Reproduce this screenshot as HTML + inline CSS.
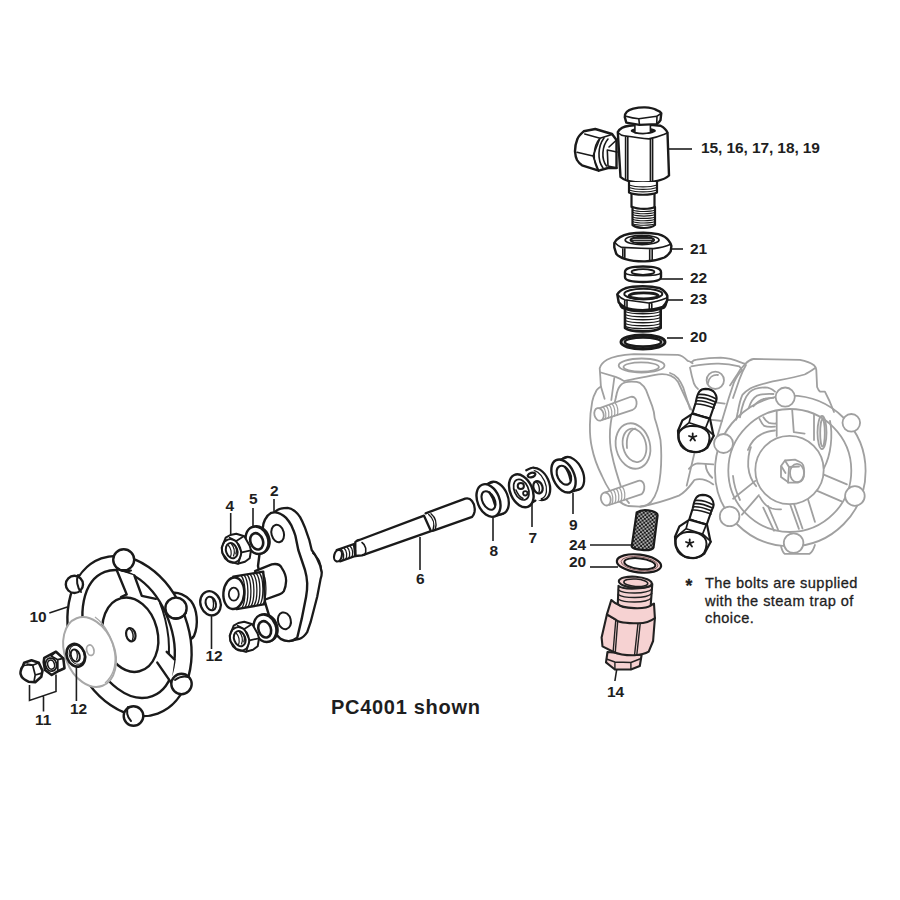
<!DOCTYPE html>
<html><head><meta charset="utf-8">
<style>
html,body{margin:0;padding:0;background:#fff;width:900px;height:900px;overflow:hidden}
svg{position:absolute;left:0;top:0}
.lb{font-family:"Liberation Sans",sans-serif;font-weight:bold;font-size:15.5px;fill:#1e1e1e}
.nt{font-family:"Liberation Sans",sans-serif;font-size:14.6px;fill:#1e1e1e;stroke:#1e1e1e;stroke-width:0.3px}
</style></head><body>
<svg width="900" height="900" viewBox="0 0 900 900">
<!-- TRAP BODY (gray) -->
<g stroke="#a0a0a0" fill="none" stroke-width="1.8" stroke-linejoin="round" stroke-linecap="round">
 <!-- ===== left block ===== -->
 <path d="M692.6,363.3 C690,361.5 689,361 687.7,360.9 C684,357 681,355 677.9,354.8 L633.9,354.2 C622,355 612,357 607,359.7 C603,362 600.5,365 599.7,368.2 L600.3,376.8 L600.9,386.6 C598,388.5 596.5,389.5 596,391.5 C594,395 593,398 592.3,401.2 L590.5,413.5 L589.9,425 C589.8,433 590.3,441 592,448 C594,458 598,468 602,476 C606,485 612,495 618,500 C621,503 624,505 628,506 L640,506.7"/>
 <!-- top face front edge -->
 <path d="M600.9,372.5 C606,374 611,375.5 615.6,376.8 C619,378 622,379.5 624.1,381.1 C636,379 648,376 658.4,374.3 C663,373.7 667,374.2 670.6,375.6 C674,377 676,379 677.9,381.7 L686.5,400 L691.4,409.8"/>
 <path d="M614.3,378 L611.3,400"/>
 <path d="M600.9,386.6 L604.6,398.8"/>
 <!-- top port -->
 <ellipse cx="641.6" cy="365.5" rx="22.9" ry="7"/>
 <ellipse cx="641.2" cy="367" rx="17.7" ry="4.6"/>
 <!-- flange front face -->
 <path d="M616.2,396.3 C617,391 618.5,387.5 620.5,385.3 C623,382.5 627,381.7 631.5,381.7 C635,381.7 638,382 640,382.9 C643,385 645,387.5 646.1,390.2 L652.2,406.1 C654,411 654.5,415 654.7,418.3 C657,425 659,433 660.5,440 C661.5,450 661.5,462 660.5,473 C659.5,485 656,496 651,502 C648,505 645,506.5 641,506.5"/>
 <path d="M616.2,396.3 C614,405 611,418 610,430 C609.5,440 610,447 612,455 C614,465 618,478 622,490 C624,496 626,500 629,503"/>
 <!-- side port -->
 <ellipse cx="633" cy="446" rx="17" ry="23" transform="rotate(-14 633 446)"/>
 <ellipse cx="634.5" cy="445.3" rx="11.5" ry="17" transform="rotate(-14 634.5 445.3)"/>
 <path d="M627,448 C626,438 629,431 635,428.5"/>
 <!-- studs -->
 <path fill="#fff" d="M598.4,408.6 L630.2,397 C633.5,396 636,398 636.5,401.5 C637,405 635.5,408.5 632.7,409.8 L601.5,420.2"/>
 <ellipse cx="599" cy="414.4" rx="4.6" ry="6.4" transform="rotate(-15 599 414.4)" fill="#fff"/>
 <path stroke-width="1.2" d="M603.5,407.5 C606,410 606.5,416 605,419.5 M606.5,406.5 C609,409 609.5,415 608,418.5 M609.5,405.5 C612,408 612.5,414 611,417.5 M612.5,404.5 C615,407 615.5,413 614,416.5 M615.5,403.5 C618,406 618.5,412 617,415.5"/>
 <path fill="#fff" d="M605,492.5 L638.3,480.8 C641.5,480 644,482.5 644.3,486 C644.5,489.5 643,493 641.7,494.2 L609.2,505"/>
 <ellipse cx="605.8" cy="499" rx="4.8" ry="6.6" transform="rotate(-15 605.8 499)" fill="#fff"/>
 <path stroke-width="1.2" d="M610.5,491 C613,494 613.5,500 612,504 M613.5,490 C616,493 616.5,499 615,503 M616.5,489 C619,492 619.5,498 618,502 M619.5,488 C622,491 622.5,497 621,501 M622.5,487 C625,490 625.5,496 624,500"/>
 <!-- ===== bridge ===== -->
 <path d="M691.3,362.3 C693,360.5 695,359.8 696.7,359.7 C705,358.5 713,357.8 720.7,357.7 C728,358 735,360 740.7,362.3 C742,363 743.5,363.5 744.7,363.7"/>
 <path d="M691.3,366.3 C700,365 708,364 716.7,363.7 C724,363.5 732,364.5 739.3,366.3 C740.5,367.5 741.5,369 742,370.3"/>
 <path d="M690,367.7 C691,373 692.5,379 694,383.7 C695,386 696.5,388 698,389"/>
 <path d="M670,373 C674,374 676,376 678,378.3 C680,381 682,384.5 683.3,387.7 L690,409"/>
 <circle cx="715.3" cy="380.3" r="8.7"/>
 <path d="M708,383 C709,377.5 713,374.5 718,375"/>
 <path d="M742,370.3 C738,374 736,378 734,382.3 L728.7,398.3 L720.7,425 L716.7,438.3"/>
 <path d="M746,365 C743,370 741,375 739.3,379.7 L733,398"/>
 <path d="M715.3,402.3 L724.7,403.7 M710,419.7 L722,421"/>
 <!-- lower middle body -->
 <path d="M640,506.7 C655,504 670,499 678.9,495.6 C686,492 690,486 694.4,480 C700,478 707,480 713.3,484.4"/>
 <path d="M688.9,468.9 C692,465 695,463.5 697.8,463.3 L713.3,464.4"/>
 <path d="M705.6,464.4 C706,470 709,475 712.2,477.8"/>
 <path d="M694.4,453.3 L686.7,485.6"/>
 <!-- ===== right block (bonnet) ===== -->
 <path d="M730,385.4 L736.2,376.1 C739,371 742,367 745.6,363.7 C748,361 750.5,359.5 753.3,359 L800,359.8 C806,361 811,363 814,365.2 C815.5,366.5 816,368 816.3,369.9 L817.1,387 C818,389.5 819,391 820.2,391.7 L824.9,391.7 L829.5,401 L834,412"/>
 <path d="M814.8,368.3 C811,371 808,373 804.6,374.5 C793,378 780,380 768.9,382.3 C762,384 755,386 750.2,388.5 C746,391 744,393 742.4,394.8 C740,400 739,405 737.8,411.9 L736.2,419.7"/>
 <path d="M740,417.3 C742,405 745,397 749.4,392.4 C753,389 759,387.5 765,387.4 C769,387.5 772,389 775,391.7"/>
 <path d="M748.7,408 C751,401 754,397.5 757.2,395.6 C762,393.8 768,393.7 773.5,394"/>
 <path d="M759.5,418.9 C761,422 762.5,424.5 764.2,425.9 C767,427 771,427 775,426.7 M763.4,417.3 C765,420 767,422 768.9,422.8 C771,423.5 773.5,423.6 775.9,423.5"/>
 <path d="M747.9,450 C751,442 756,437 761.1,434.4 C765,432 770,431 775,430.5"/>
 <path d="M753.3,406.4 C757,402 761,399.5 765,398.7 C768,398 771,397.9 773.5,397.9"/>
 <ellipse cx="822" cy="432.5" rx="4.5" ry="16.5"/>
 <ellipse cx="822.5" cy="433" rx="2.3" ry="13.5"/>
 <path d="M814,414.7 V440 M830,421 C833,435 831,455 824,468"/>
 <!-- ===== handwheel ===== -->
 <circle cx="790.3" cy="471" r="75.3"/>
 <circle cx="789.8" cy="470.5" r="61.5"/>
 <path d="M733,476 C734,486 736.5,493 740,500"/>
 <!-- spokes -->
 <path d="M776.7,411.5 L776.7,436 M792.2,410.2 L793.8,432.1 L804.6,433.6"/>
 <path d="M822,473.8 L846.9,484.4 M816.7,490.7 L841.6,501.3"/>
 <path d="M755.3,480.9 L733.1,498.7 M758.9,495.1 L742,514.7"/>
 <!-- below hub -->
 <path d="M763.3,507.6 L774,530.7 M768,506 L778,529.5 M790,504 L798.9,528.9 M794,504 L802.5,528.5 M807.8,498.7 L814.9,521.8"/>
 <path d="M759.8,496.9 C763,503 767,507 772,508.5 C776,509.5 779,509.5 781.1,509.3"/>
 <!-- hub -->
 <path d="M750.9,447.1 C748.5,453 748,460 748.2,466.7 C749,475 751.5,481 756.2,486.2"/>
 <circle cx="789.5" cy="470" r="34.2" fill="#fff"/>
 <!-- center nut -->
 <path fill="#fff" d="M781,466 L785,460.5 L795,459.6 L800,462 C803,463 804.2,468 804.2,472 C804.2,478 802,482 798,482.7 L789,482.7 L781,477 Z"/>
 <path d="M785,460.5 L789,467 L799,466.5 M789,467 L788,482.7 M781.5,466.5 L785.5,473"/>
 <ellipse cx="797" cy="473" rx="7" ry="9.2"/>
 <!-- foot -->
 <path d="M781.1,546.7 C782,550 783,552.5 784.7,553.8 L809.6,553.8 C812,552 814,548 814.9,544.9"/>
 <!-- knobs -->
 <g fill="#fff">
 <circle cx="785.2" cy="397.1" r="9.6"/>
 <circle cx="851.3" cy="422.8" r="8.8"/>
 <circle cx="723.5" cy="443.5" r="9.5"/>
 <circle cx="854.9" cy="496" r="9.8"/>
 <circle cx="729.6" cy="516.4" r="9.8"/>
 <circle cx="793.6" cy="543.1" r="9.8"/>
 </g>
</g>

<!-- BOLTS -->
<defs>
<g id="bolt" stroke="#1a1a1a" fill="#fff" stroke-linejoin="round" stroke-linecap="round">
 <path stroke-width="2.1" d="M692.2,413.8 L695.8,402.2 C696.5,398 697.5,394 699.3,391.6 C701,389.5 703,388.9 705.6,388.9 C710,389 713,390.5 714.8,393 C716.5,395.5 717,398.5 716.2,401 L714.6,404.5 L709.8,418.4 Z"/>
 <path stroke-width="1.6" fill="none" d="M698.5,394.5 C704,394 711,396 716.3,399 M697.5,397.7 C703,397 710,399.5 715.5,402 M696.6,400.9 C702,400.3 709,402.7 714.8,405 M695.7,404 C701,403.5 708,405.8 714,408"/>
 <path stroke-width="2.2" d="M692.2,413.8 L682.4,420.4 L678,430.7 L678.4,437.8 C679,441 680,443 681.6,444.9 C684,448 687,450.5 689.6,451.1 C692.5,452 695.5,452.3 698.4,452 C702,451.3 705,449.8 707.3,447.6 L713.6,436 L710,418.6 Z"/>
 <path stroke-width="1.7" fill="none" d="M693.6,413.3 L709.1,418.7 M690.9,415.6 L689.1,422.7 L678.9,431.1 M689.1,422.7 L705.6,428 L709.1,419.1 M705.6,428 L714,435.6"/>
 <path stroke-width="2" fill="none" d="M678.6,434 C679.5,430 684,426.5 690,426 C697,425.5 704,427.5 707.5,431.5 C710,435 710,441 707.3,446.5 C704.5,450.5 699,452.5 693.5,452 C686,451.5 680.5,447 678.6,440 Z"/>
 <path stroke-width="1.8" fill="none" d="M692.7,433.3 V437.3 M692.7,437.3 L689,436 M692.7,437.3 L696.4,436 M692.7,437.3 L690.4,440.6 M692.7,437.3 L695,440.6"/>
</g>
</defs>
<use href="#bolt"/>
<use href="#bolt" transform="translate(-3 106)"/>

<!-- PART 15-19 angle valve -->
<g stroke="#1a1a1a" fill="#fff" stroke-linejoin="round" stroke-linecap="round">
 <!-- left nut -->
 <path stroke-width="2.4" d="M616.5,140 L612,134 L595.3,129 L583.7,131.3 C580,134.5 578,137 577.3,139.3 C575.8,143 575,147 575,151.3 C575.3,155 576,158 577,160 C578.5,162.5 580,164 582,165.3 L598.7,170.7 L608,168 L616.5,168 Z"/>
 <path stroke-width="1.5" fill="none" d="M584.7,134 L600,138.3 L593,156 L598.7,170.7 M577,152.3 L593,156 M600,138.3 L612.7,134.3"/>
 <path stroke-width="1.6" fill="none" d="M600,138.3 C593,146 592,162 598.7,170.7 M604,138 C598,146 597,160 603,168 M608,139 C602,146 601,159 606.5,166"/>
 <path stroke-width="1.6" fill="none" d="M607.3,150 L617,152 M608,166 L617,168 M609,147 L616,140.5 M607.3,150 L608,166"/>
 <!-- hex body -->
 <path stroke-width="2.4" d="M617.8,132 C620,128 624,126.3 629.4,125.7 C635,125 640,124.9 645,124.9 C651,125 656,125.3 660.5,125.7 C664,127.5 666.5,130 667.5,132.7 L669,175.5 C664,180.5 652,182.5 643,182.5 C632,182.5 624,180.5 620.5,177 Z"/>
 <path stroke-width="1.6" fill="none" d="M618.5,133 C620,134.5 622,135.5 624,135.8 C632,137 641,138.3 648.9,138.9 C655,137.5 660,136 664.4,134.2 L667.5,132.7 M625.6,136 V179.5 M627.8,136.3 V180 M650.4,139 V182 M652.6,138.7 V181.8"/>
 <ellipse cx="643.3" cy="130.8" rx="12.6" ry="3.3" fill="#1a1a1a" stroke="none"/>
 <path stroke-width="1.6" d="M634.9,124 V132.6 C640,133.8 646,133.8 650.4,132.6 V124 Z"/>
 <!-- top bolt head -->
 <path stroke-width="2.4" d="M624.8,117.1 C624.5,113 628,110 633.3,108.6 C638,107.5 641,107.3 645,107.4 C650,107.6 654,108.5 656.7,110.1 C659,111 660.8,112 661.3,113.2 L660.5,120.2 C659.5,122 658,123.3 656.7,124.1 L639.5,124.9 L626.3,122.6 Z"/>
 <path stroke-width="1.6" fill="none" d="M625,116 C630,117.5 635,118.5 638.8,118.7 L656.7,116.3 L661,113.5 M638.8,118.7 L639.5,124.9 M657,116.3 L656.7,124"/>
 <!-- stem upper threads -->
 <path stroke-width="2.2" d="M629,182 V192.5 C635,195.5 651,195.5 657,192.5 V182"/>
 <path stroke-width="1.2" fill="none" d="M629,185 C636,187.5 650,187.5 657,185 M629,187.5 C636,190 650,190 657,187.5 M629,190 C636,192.5 650,192.5 657,190"/>
 <path stroke-width="2.2" fill="none" d="M631.5,194 V207 M654.5,194 V207"/>
 <path stroke-width="2.2" d="M632.5,207 V225 C638,229 650,229 655,225 V207 C650,209.5 638,209.5 632.5,207 Z"/>
 <path stroke-width="1.1" fill="none" d="M632.5,210 C638,212 650,212 655,210 M632.5,212.3 C638,214.3 650,214.3 655,212.3 M632.5,214.6 C638,216.6 650,216.6 655,214.6 M632.5,216.9 C638,218.9 650,218.9 655,216.9 M632.5,219.2 C638,221.2 650,221.2 655,219.2 M632.5,221.5 C638,223.5 650,223.5 655,221.5 M632.5,223.8 C638,225.8 650,225.8 655,223.8"/>
</g>
<!-- PART 21 nut -->
<g stroke="#1a1a1a" fill="#fff" stroke-linejoin="round" stroke-linecap="round">
 <path stroke-width="2.4" d="M614.3,243 C617,238 623,235 629.4,233.8 C634,233 639,232.7 643.4,232.7 C649,232.8 654,233.3 658.2,234.2 C663,235.5 667,238 669.1,241.2 C670.5,243 671.3,244.5 671.4,245.9 L670.7,251.3 C669,254 667,256 664.4,257.5 C658,260 652,261.3 645,261.4 C638,261.5 631,260.8 625.6,259.1 C621,257.8 618,256 616.2,253.7 L614.3,247.4 Z"/>
 <path stroke-width="1.6" fill="none" d="M614.7,242.5 C617,245 619,246.5 621.7,247.4 L641.1,248.2 L653.5,248.6 C660,248 666,246.5 670.7,244.3 M622.8,247.5 V256.5 M624.8,247.6 V257.5 M649.7,248.5 V259.8 M652.2,248.6 V259.5"/>
 <ellipse cx="642.1" cy="240" rx="16.9" ry="4.6" stroke-width="1.8"/>
 <ellipse cx="642.3" cy="240" rx="12" ry="3.6" stroke-width="1.5" fill="#2a2a2a"/>
 <path stroke-width="0.9" stroke="#bbb" fill="none" d="M633,239.5 H651.5 M634,241.5 H650.5"/>
</g>
<!-- PART 22 washer -->
<g stroke="#1a1a1a" fill="#fff" stroke-linejoin="round">
 <path stroke-width="2.4" d="M625,272 C625,268 633,266.5 643,266.5 C653,266.5 661,268 661,272 V277 C661,280.5 653,282 643,282 C633,282 625,280.5 625,277 Z"/>
 <ellipse cx="643" cy="272" rx="11.5" ry="2.8" stroke-width="1.8" fill="none"/>
 <path stroke-width="1.5" fill="none" d="M625,273 C628,276.5 658,276.5 661,273"/>
</g>
<!-- PART 23 bushing -->
<g stroke="#1a1a1a" fill="#fff" stroke-linejoin="round" stroke-linecap="round">
 <path stroke-width="2.6" d="M625,306 V328 C630,332.5 655,332.5 660.7,328 V306 Z"/>
 <path stroke-width="1.3" fill="none" d="M625,311.5 C632,314.5 654,314.5 660.7,311.5 M625,314.5 C632,317.5 654,317.5 660.7,314.5 M625,317.5 C632,320.5 654,320.5 660.7,317.5 M625,320.5 C632,323.5 654,323.5 660.7,320.5 M625,323.5 C632,326.5 654,326.5 660.7,323.5 M625,326.3 C632,329.3 654,329.3 660.7,326.3"/>
 <path stroke-width="2.2" d="M619.3,302 C620,305 621,307 622.5,308 C628,310.5 636,311.5 642.7,311.5 C650,311.5 658,310 663.5,308 C665,307 666,305 666.5,302 Z"/>
 <path stroke-width="2.5" d="M617.3,294.3 C619,291.5 622,289.5 625.3,288.3 C630,286.8 636,286.3 642.7,286.3 C649,286.3 655,287 660,288.3 C663.5,290 666,292.5 667.3,295.7 L667.3,300.3 C666,303.5 664.5,305.5 662.7,307 C657,309 650,310 642.7,310.3 C635,310.3 629,309.3 625.3,307.7 C622,306 620,304 618.7,302.3 Z"/>
 <path stroke-width="1.6" fill="none" d="M618,295 C620,297.5 622,299 624.7,299.7 L648.7,303 C655,302 661,300 667.3,297.7 M624.7,299.7 V308 M627,300 V308.5 M649.3,303 V310.3 M651.8,302.8 V310"/>
 <ellipse cx="643.3" cy="294" rx="19" ry="5.2" stroke-width="2"/>
 <ellipse cx="643.7" cy="295.8" rx="14.5" ry="3" stroke-width="2.8" fill="none"/>
</g>
<!-- PART 20 o-ring -->
<g stroke="#1a1a1a" fill="none">
 <ellipse cx="643" cy="342" rx="22" ry="7" stroke-width="3"/>
 <ellipse cx="643" cy="342" rx="18.2" ry="4.6" stroke-width="2.6"/>
</g>

<!-- SHAFT 6 -->
<g stroke="#1a1a1a" fill="#fff" stroke-linejoin="round" stroke-linecap="round">
 <path stroke-width="2.3" d="M425.6,513.3 L465.2,498.6 C468,497.8 470.5,499 472,501 C474.5,504 475,509 474.5,512 C474,514.5 473,516 472.2,516.8 L432.6,530.8"/>
 <path stroke-width="2.3" d="M355.3,542 C357,540.5 358,540 359.3,540 L424,515.7 L431,531.2 L362,555.3 L355.3,556 Z"/>
 <path stroke-width="1.4" fill="none" d="M428.7,514.5 C433,518 435,524 433,530 M431,513.7 C435,517 437,523 435.3,529.3"/>
 <path stroke-width="1.6" fill="none" d="M362,542.5 C366,545 367,551 364.5,555"/>
 <path stroke-width="2.3" d="M336.7,550 L354,544 L355.3,556 L340,561.3 Z"/>
 <ellipse cx="338" cy="555.7" rx="3.8" ry="5.9" transform="rotate(15 338 555.7)" stroke-width="2.2"/>
 <path stroke-width="1.3" fill="none" d="M341,549 C344,552 344.5,557 342.5,560.5 M344,548 C347,551 347.5,556 345.5,559.5 M347,547 C350,550 350.5,555 348.5,558.5 M350,546 C353,549 353.5,554 351.5,557.5 M353,545 C356,548 356.5,553 354.5,556.5"/>
</g>
<!-- SEAL 8 -->
<g stroke="#1a1a1a" fill="#fff" stroke-linejoin="round" stroke-linecap="round">
 <ellipse cx="496.8" cy="498" rx="11" ry="17" transform="rotate(-22 496.8 498)" stroke-width="2.3"/>
 <path stroke="none" d="M484.5,485 L493,482 L503,513.5 L494.5,516.5 Z"/>
 <path stroke-width="2.2" fill="none" d="M484.3,485 L492.8,482.2 M494.5,516.4 L503,513.6"/>
 <ellipse cx="488.5" cy="500.5" rx="11" ry="17" transform="rotate(-22 488.5 500.5)" stroke-width="2.4"/>
 <ellipse cx="488.5" cy="500.5" rx="6" ry="9.9" transform="rotate(-27 488.5 500.5)" stroke-width="2.1"/>
 <path stroke-width="2.2" fill="none" d="M489.5,492.5 C492,496 494,500 495,505"/>
</g>
<!-- LANTERN RING 7 -->
<g stroke="#1a1a1a" fill="#fff" stroke-linejoin="round" stroke-linecap="round">
 <ellipse cx="538" cy="484" rx="11" ry="17" transform="rotate(-24 538 484)" stroke-width="2.3"/>
 <ellipse cx="536.3" cy="484.6" rx="9" ry="15" transform="rotate(-24 536.3 484.6)" stroke-width="1.3" fill="none"/>
 <path stroke="none" d="M519,474 L533,467.5 L541,499.5 L527,506 Z"/>
 <path stroke-width="2.1" fill="none" d="M526.2,470.3 C529,468.8 531,468 533.3,467.5 M527.5,505 C530,504 533,502 535.5,500.5"/>
 <path stroke-width="2.2" fill="#fff" d="M527.7,475.5 C529,472.5 533,472 535.2,473.5 C536,475 534,477 531,477.4 C529,477.6 527.8,477 527.7,475.5 Z"/>
 <ellipse cx="538" cy="487.3" rx="4.5" ry="6.3" transform="rotate(-20 538 487.3)" stroke-width="2.2"/>
 <path stroke-width="1.4" fill="none" d="M536.5,482 C539,484.5 540,489 539,492"/>
 <ellipse cx="521.3" cy="490.8" rx="11.05" ry="17.3" transform="rotate(-24 521.3 490.8)" stroke-width="2.4"/>
 <ellipse cx="521.3" cy="489.7" rx="7" ry="10.8" transform="rotate(-24 521.3 489.7)" stroke-width="1.7" fill="none"/>
 <circle cx="520.8" cy="486" r="3.1" stroke-width="2" fill="none"/>
 <circle cx="525.3" cy="493.3" r="2.2" stroke-width="1.8" fill="none"/>
 <path stroke-width="1.5" fill="none" d="M516,490 C517.5,494 520,497 523,498.5"/>
</g>
<!-- SEAL 9 -->
<g stroke="#1a1a1a" fill="#fff" stroke-linejoin="round" stroke-linecap="round">
 <ellipse cx="572" cy="473.5" rx="10.7" ry="17.5" transform="rotate(-25 572 473.5)" stroke-width="2.3"/>
 <path stroke="none" d="M558,460 L567,457 L578.5,489.5 L569.5,492.5 Z"/>
 <path stroke-width="2.2" fill="none" d="M558,460.5 L567,457.3 M569.5,492.4 L578.2,489.6"/>
 <ellipse cx="563.5" cy="476" rx="10.65" ry="17.5" transform="rotate(-25 563.5 476)" stroke-width="2.4"/>
 <ellipse cx="563.9" cy="475.2" rx="6.5" ry="10" transform="rotate(-26 563.9 475.2)" stroke-width="2.1"/>
 <path stroke-width="2.2" fill="none" d="M565,467 C567.5,470 569.5,475 570.5,480"/>
</g>
<!-- FLANGE 2 -->
<g stroke="#1a1a1a" fill="#fff" stroke-linejoin="round" stroke-linecap="round">
 <path stroke-width="2.3" d="M275.2,511.7 C277,510 279,509 280.7,508.6 C283,508 285.5,507.8 287.7,507.8 C290.5,508 293,509.5 295.4,511.7 C297.5,513.5 299,515.5 300.1,517.1 C302,520.5 303.5,524 304.8,527.2 L309.4,540.4 L311.7,550 C314,553 316,556 317.2,558.9 C319.5,563 321,568 321.7,572.2 C321.8,574.5 321.3,577 320.6,578.9 L317.2,596.7 L310.6,622.2 L307.2,632.2 C305,635.5 302.5,638 299.4,638.9 L290,641 Z"/>
 <path stroke-width="1.5" fill="none" d="M312.8,553.3 C316,556 318.5,559 319.4,561.1 C320.8,564.5 321.5,568 321.7,572.2"/>
 <path stroke-width="2.4" d="M262.8,528 C263,524.5 264,521.5 265.1,519.4 C266.5,516.5 268.5,514.3 270.6,513.2 C272,512.6 273.5,512.3 275.2,512.4 C277,512.5 279,513.1 280.7,514 C282.7,515 284.5,516.3 286.1,517.9 C288.3,520.3 290,523 291.5,525.7 C293,529 294.5,532.5 295.4,535.8 L298.3,550 L305,570 C306.3,574.5 307,579 307.2,583.3 C307.3,588 306.9,592.5 306.1,596.7 L301.7,618.9 L297.2,637.8 C294.5,640 291.5,641.2 288.3,641.1 C285.5,641 283,640.2 280.6,638.9 C278.3,637 276.5,634.8 275,632.2 L269.4,616.7 L265,602.2 L258,566 Z"/>
 <ellipse cx="277.7" cy="533.5" rx="6.2" ry="8.8" transform="rotate(-15 277.7 533.5)" stroke-width="2"/>
 <ellipse cx="284.4" cy="620.8" rx="6.4" ry="8.5" transform="rotate(-15 284.4 620.8)" stroke-width="2"/>
 <!-- boss -->
 <path stroke-width="2.3" d="M255,571.1 L271.7,564.4 C276,563.5 280,564.5 281.7,567.8 C284.5,572 286.3,576.5 286.1,581.1 C285.9,585 285.2,588.5 283.9,591.1 C282.7,592.8 281.2,593.8 279.4,594.4 L263.9,600"/>
 <path stroke-width="2.3" d="M233.3,576.7 L263.3,571.7 L265,604.2 L236.7,609.2 Z"/>
 <path stroke-width="1.3" fill="none" d="M241,575.5 C246,581 246,601 242,607.8 M244,575 C249,580.5 249,600.5 245,607.3 M247,574.5 C252,580 252,600 248,606.8 M250,574 C255,579.5 255,599.5 251,606.3 M253,573.5 C258,579 258,599 254,605.8 M256,573 C261,578.5 261,598.5 257,605.3 M259,572.5 C264,578 264,598 260,604.8 M262,572 C267,577.5 267,597.5 263,604.3"/>
 <ellipse cx="233.8" cy="593.3" rx="10.4" ry="15.8" transform="rotate(5 233.8 593.3)" stroke-width="2.4"/>
 <ellipse cx="233.8" cy="594.2" rx="5" ry="6.5" stroke-width="1.8"/>
</g>
<!-- NUT 4 + WASHER 5 -->
<defs>
<g id="nutw" stroke="#1a1a1a" fill="#fff" stroke-linejoin="round" stroke-linecap="round">
 <ellipse cx="258.3" cy="539.8" rx="11" ry="14" transform="rotate(-20 258.3 539.8)" stroke-width="2.2"/>
 <ellipse cx="257" cy="540.3" rx="11" ry="14" transform="rotate(-20 257 540.3)" stroke-width="2.4"/>
 <ellipse cx="256.7" cy="541.3" rx="6.2" ry="8.4" transform="rotate(-20 256.7 541.3)" stroke-width="2.6"/>
 <path stroke-width="2" d="M221.7,547.7 L225.7,537.7 L230.3,535 L236.3,533.7 L244.3,536.3 L249.7,545.7 L251,550.3 L249.7,558.3 L245,561.7 L237.7,563.7 L228.3,561 L222.3,553 Z"/>
 <path stroke-width="1.7" fill="none" d="M229.7,537.7 L236.3,541 L243.7,536.3 M236.3,541 L241.7,552.3 L251,550.3 M241.7,552.3 L238.3,563.7"/>
 <ellipse cx="231.5" cy="551" rx="9.3" ry="12" transform="rotate(-18 231.5 551)" stroke-width="1.7" fill="none"/>
 <ellipse cx="231.7" cy="550.7" rx="5.6" ry="7.8" transform="rotate(-20 231.7 550.7)" stroke-width="2" fill="none"/>
 <path stroke-width="1.2" fill="none" d="M228.5,545.5 C231,548 232,553 230.5,557 M231.5,544 C234,547 235,552 233.5,556 M234.2,544.5 C236.2,547 236.8,551 235.8,554"/>
</g>
</defs>
<use href="#nutw"/>
<use href="#nutw" transform="translate(8 88)"/>
<!-- WASHER 12 mid -->
<g stroke="#1a1a1a" fill="#fff">
 <ellipse cx="210.5" cy="603.3" rx="10" ry="12.3" transform="rotate(-20 210.5 603.3)" stroke-width="2.3"/>
 <ellipse cx="210.8" cy="603.5" rx="5" ry="7" transform="rotate(-20 210.8 603.5)" stroke-width="2"/>
 <path stroke-width="1.4" fill="none" d="M212,597.5 C214,600 214,607 212.5,609.5"/>
</g>

<!-- HANDWHEEL 10 -->
<g stroke="#1a1a1a" fill="none" stroke-linejoin="round" stroke-linecap="round" stroke-width="2.4">
 <!-- rear hub -->
 <path fill="#fff" d="M172,593 C178,592 186,595 191,601 C197,609 199,624 194,636 C192,639 190,640 187,640.5"/>
 <!-- ring outer -->
 <ellipse cx="129.5" cy="636" rx="58.7" ry="82.5" transform="rotate(-20 129.5 636)" fill="#fff"/>
 <ellipse cx="128.6" cy="634" rx="42.3" ry="66.5" transform="rotate(-21 128.6 634)"/>
 <path stroke-width="2" d="M160,603 C164,613 167,625 168.5,638 C169.5,650 169,662 167,674"/>
 <!-- spokes -->
 <path fill="#fff" stroke="none" d="M116.7,570 L126.7,594.4 L155.8,598.9 L141.8,595.8 L134.4,575.6 Z"/>
 <path d="M116.7,570 L126.7,594.4 L121,597 M134.4,575.6 L141.8,595.8 L155.8,598.9"/>
 <path fill="#fff" stroke="none" d="M157.3,662.6 L171.3,682.9 L174.4,659.5 L166.7,651.8 Z"/>
 <path d="M157.3,662.6 L171.3,682.9 M166.7,651.8 L174.4,659.5"/>
 <!-- hub face -->
 <ellipse cx="130.3" cy="634.7" rx="27.3" ry="37.7" transform="rotate(-14 130.3 634.7)" fill="#fff"/>
 <ellipse cx="130.8" cy="634.7" rx="4.6" ry="6.8" transform="rotate(-14 130.8 634.7)" stroke-width="2.2"/>
 <path stroke-width="1.5" d="M130,629 C133,631 134,637 132.5,640"/>
 <!-- knobs -->
 <g fill="#fff">
 <circle cx="74.4" cy="584.4" r="8.6"/>
 <circle cx="123.7" cy="559.8" r="10.5"/>
 <circle cx="176" cy="608.2" r="10.6"/>
 <circle cx="181.5" cy="684" r="10.2"/>
 <circle cx="133.5" cy="716" r="9.8"/>
 </g>
 <path stroke-width="2" d="M78,575 C76,580 77,587 81,592 M116,567 C120,571 126,572 131,570.5 M172,618 C178,619 183,617 186,613 M175,680 C179,677 184,676 188,677 M128,707 C126,711 127,717 131,721"/>
</g>
<!-- PLATE (gray) -->
<g stroke="#a8a8a8" fill="#fff" stroke-width="2">
 <ellipse cx="89.6" cy="652" rx="24.7" ry="36.2" transform="rotate(-21 89.6 652)"/>
 <path fill="none" stroke-width="1.3" d="M95,617 C106,625 113,640 115,655 C116,667 112,677 105,683"/>
 <ellipse cx="90.3" cy="650.2" rx="3.6" ry="5.3" transform="rotate(-15 90.3 650.2)" fill="none" stroke-width="1.8"/>
</g>
<!-- WASHER 12 left -->
<g stroke="#1a1a1a" fill="#fff">
 <ellipse cx="75.8" cy="655.3" rx="9" ry="11.6" transform="rotate(-20 75.8 655.3)" stroke-width="2.7"/>
 <ellipse cx="76.8" cy="654.8" rx="7.3" ry="9.8" transform="rotate(-20 76.8 654.8)" stroke-width="1" fill="none"/>
 <ellipse cx="75.3" cy="655.5" rx="4.3" ry="6.3" transform="rotate(-20 75.3 655.5)" stroke-width="2"/>
 <path stroke-width="1.2" fill="none" d="M75.5,650 C77.5,652 78,657 76.5,660"/>
</g>
<!-- NUTS 11 -->
<g stroke="#1a1a1a" fill="#fff" stroke-linejoin="round" stroke-linecap="round">
 <path stroke-width="2.6" d="M24.2,662.7 L31.5,660.3 L38.8,662.7 L42.5,670.7 L41.3,676.8 L35.2,682.3 L28.4,681.7 C25,680 22.5,678.5 21.7,676.8 C20.5,674.5 20.3,672.5 20.5,671.9 C21,669 22,667 23,665.8 Z"/>
 <path stroke-width="1.7" fill="none" d="M27.2,664 L32.7,665.2 L35.2,675 L34,681.7 M35.2,675 L41.9,673.1 M32.7,665.2 L38.8,662.7 M23,665.8 C26,664.5 29,665 32.7,665.2"/>
 <path stroke-width="2.6" d="M44.3,657.8 L56,651.7 L63.3,658.4 L64.5,668.2 L59,670.7 L51.7,675 L45,670 L43.7,662.1 Z"/>
 <path stroke-width="1.7" fill="none" d="M51.1,656 L57.8,659.7 L63.3,658.4 M57.8,659.7 L57.8,670.7 M56,651.7 L51.1,656"/>
 <ellipse cx="51.1" cy="664.6" rx="5.5" ry="6.6" transform="rotate(-15 51.1 664.6)" stroke-width="1.8" fill="none"/>
 <ellipse cx="51.1" cy="664.6" rx="3.4" ry="4.6" transform="rotate(-15 51.1 664.6)" stroke-width="1.5" fill="none"/>
</g>

<!-- STRAINER 24 -->
<defs>
<pattern id="mesh" patternUnits="userSpaceOnUse" width="3.9" height="3.9" patternTransform="rotate(8)">
 <rect width="3.9" height="3.9" fill="#1c1c1c"/>
 <circle cx="0.97" cy="0.97" r="0.85" fill="#fff"/>
 <circle cx="2.92" cy="2.92" r="0.85" fill="#fff"/>
</pattern>
</defs>
<path d="M636.7,512.5 C640,510 646,509.5 652,511 C656,512 658,513.5 657.5,516 L653.5,547.5 C652.5,550 648,550.5 642,550 C636,549.5 632.5,548.5 631.7,546.5 Z" fill="url(#mesh)" stroke="#1a1a1a" stroke-width="2.2" stroke-linejoin="round"/>
<!-- RING 20 pink -->
<g stroke="#1a1a1a" stroke-linejoin="round">
 <ellipse cx="639" cy="563.5" rx="22.3" ry="8.9" transform="rotate(7 639 563.5)" fill="#f6d2d2" stroke-width="2.2"/>
 <ellipse cx="639.8" cy="563.7" rx="15.6" ry="5.3" transform="rotate(7 639.8 563.7)" fill="#fff" stroke-width="2"/>
 <ellipse cx="639.5" cy="563.6" rx="18.5" ry="6.8" transform="rotate(7 639.5 563.6)" fill="none" stroke="#7a5a5a" stroke-width="0.9"/>
</g>
<!-- FITTING 14 pink -->
<g stroke="#222" fill="#f6d2d2" stroke-linejoin="round" stroke-linecap="round">
 <!-- bottom hex -->
 <path stroke-width="2.1" d="M607.5,652 L606,662.4 L614.9,669.5 L630.9,669.5 L639.8,666 L641.6,655 Z"/>
 <path stroke-width="1.4" fill="none" d="M606.5,659 L614.9,662 L630.9,662.5 L641,658.5 M614.9,662 V669.5 M630.9,662.5 V669.5"/>
 <!-- hex body -->
 <path stroke-width="2.1" d="M606.9,614.4 L615.8,619.7 L638,623.3 L654.9,618 L653.1,641 L648.7,651.7 C645,654 640,655 634.5,655.3 C626,655.5 618,654 613.1,651.7 L602.5,646.4 L601.6,637.5 Z"/>
 <path stroke-width="1.4" fill="none" d="M615.8,619.7 L613.1,651.7 M617.8,620 L615.3,652 M638,623.3 L634.5,655.3 M640.3,622.8 L636.8,655"/>
 <!-- collar -->
 <path stroke-width="2.1" d="M606.9,614.4 L611.3,600 C616,605 626,607.5 635,607.5 C643,607.5 651,606 654,603.7 L654.9,618 C650,622 645,623.3 638,623.3 C628,623.3 618,622 615.8,619.7 Z"/>
 <!-- threaded top -->
 <path stroke-width="2.1" d="M618.5,585.9 L617.8,604 C622,609 646,609.5 650.7,605.5 L652.3,584.1 C650,589.5 622,590 618.5,585.9 Z"/>
 <path stroke-width="1.4" fill="none" d="M618.4,590 C624,594 646,594.5 652.1,589 M618.2,594.5 C624,598.5 646,599 651.8,593.5 M618,599 C624,603 646,603.5 651.3,598"/>
 <ellipse cx="635.3" cy="582.3" rx="16.5" ry="5.6" transform="rotate(4 635.3 582.3)" stroke-width="2.1"/>
 <ellipse cx="635.8" cy="582.8" rx="12" ry="3.7" transform="rotate(4 635.8 582.8)" stroke-width="1.5"/>
</g>
<!-- LABELS -->
<g class="lb">
<text x="701" y="153" letter-spacing="-0.1">15, 16, 17, 18, 19</text>
<text x="690" y="254">21</text>
<text x="690" y="283">22</text>
<text x="690" y="304">23</text>
<text x="690" y="342">20</text>
<text x="416" y="584">6</text>
<text x="489.5" y="556">8</text>
<text x="528.5" y="543">7</text>
<text x="569" y="529.5">9</text>
<text x="569" y="550">24</text>
<text x="569" y="567">20</text>
<text x="225.5" y="511">4</text>
<text x="249" y="504">5</text>
<text x="270" y="495.7">2</text>
<text x="205.5" y="661">12</text>
<text x="29.5" y="622">10</text>
<text x="35" y="724.5">11</text>
<text x="70" y="714.3">12</text>
<text x="607" y="697">14</text>
<text x="331" y="714" style="font-size:20px" letter-spacing="0.7">PC4001 shown</text>
</g>
<g class="nt">
<text x="685.5" y="592" style="font-weight:bold;font-size:17.5px">*</text>
<text x="705" y="588" letter-spacing="0.42">The bolts are supplied</text>
<text x="705" y="605.5" letter-spacing="0.42">with the steam trap of</text>
<text x="705" y="623" letter-spacing="0.42">choice.</text>
</g>
<!-- LEADERS -->
<g stroke="#1e1e1e" stroke-width="1.6" fill="none">
<path d="M669 149H692"/>
<path d="M672 249H683"/>
<path d="M661 279H683"/>
<path d="M668 300H683"/>
<path d="M667 338H683"/>
<path d="M420 537V570"/>
<path d="M493 517V541"/>
<path d="M532 502V527"/>
<path d="M573 493V514"/>
<path d="M590 545H631"/>
<path d="M590 567H618"/>
<path d="M230.7 513V534"/>
<path d="M253 508V527"/>
<path d="M274 499V512"/>
<path d="M211.5 615.5V649"/>
<path d="M49.3 613L67.3 607"/>
<path d="M29.5 685V700.5L56 691.5V674.5M43.5 696.5V711.5"/>
<path d="M76.4 666V701"/>
<path d="M616.7 669.5L614.9 681"/>
</g>
</svg>
</body></html>
